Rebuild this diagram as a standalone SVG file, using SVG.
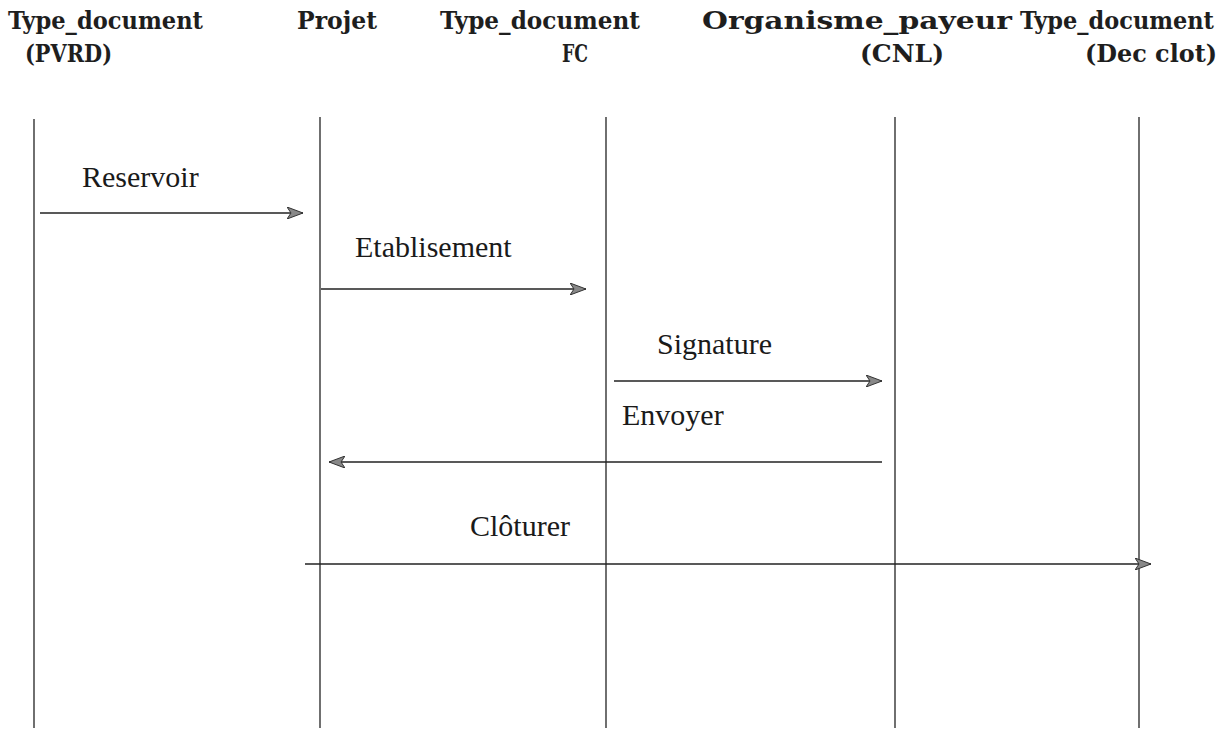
<svg xmlns="http://www.w3.org/2000/svg" width="1225" height="730" viewBox="0 0 1225 730">
  <style>
    .head { font-family: "DejaVu Serif", "Liberation Serif", serif; font-weight: bold; font-size: 24px; fill: #1e1e1e; }
    .msg { font-family: "Liberation Serif", "Times New Roman", serif; font-size: 30px; fill: #1a1a1a; }
    .life { stroke: #222; stroke-width: 1.3; fill: none; }
    .arrow { stroke: #222; stroke-width: 1.4; fill: none; marker-end: url(#head); }
  </style>
  <defs>
    <marker id="head" viewBox="0 0 16 12" refX="16" refY="6" markerWidth="16" markerHeight="12" markerUnits="userSpaceOnUse" orient="auto">
      <path d="M0,0 L16,6 L0,12 L4,6 Z" fill="#888" stroke="#333" stroke-width="1"/>
    </marker>
  </defs>
  <rect width="1225" height="730" fill="#fff"/>

  <!-- participants: header label + lifeline -->
  <g id="pvrd">
    <text class="head" x="8" y="29" textLength="195" lengthAdjust="spacingAndGlyphs">Type_document</text>
    <text class="head" x="25" y="62" textLength="87" lengthAdjust="spacingAndGlyphs">(PVRD)</text>
    <line class="life" x1="34" y1="119" x2="34" y2="728"/>
  </g>
  <g id="projet">
    <text class="head" x="297" y="29" textLength="80" lengthAdjust="spacingAndGlyphs">Projet</text>
    <line class="life" x1="320" y1="117" x2="320" y2="728"/>
  </g>
  <g id="fc">
    <text class="head" x="440" y="29" textLength="200" lengthAdjust="spacingAndGlyphs">Type_document</text>
    <text class="head" x="562" y="62" textLength="26" lengthAdjust="spacingAndGlyphs">FC</text>
    <line class="life" x1="606" y1="117" x2="606" y2="728"/>
  </g>
  <g id="cnl">
    <text class="head" x="702" y="29" textLength="310" lengthAdjust="spacingAndGlyphs">Organisme_payeur</text>
    <text class="head" x="860" y="62" textLength="84" lengthAdjust="spacingAndGlyphs">(CNL)</text>
    <line class="life" x1="895" y1="117" x2="895" y2="728"/>
  </g>
  <g id="decclot">
    <text class="head" x="1020" y="29" textLength="194" lengthAdjust="spacingAndGlyphs">Type_document</text>
    <text class="head" x="1085" y="62" textLength="132" lengthAdjust="spacingAndGlyphs">(Dec clot)</text>
    <line class="life" x1="1139" y1="117" x2="1139" y2="728"/>
  </g>

  <!-- messages -->
  <g id="connectors">
    <line class="arrow" x1="40" y1="213" x2="303" y2="213"/>
    <text class="msg" x="82" y="187">Reservoir</text>

    <line class="arrow" x1="321" y1="289" x2="586" y2="289"/>
    <text class="msg" x="355" y="257">Etablisement</text>

    <line class="arrow" x1="614" y1="381" x2="882" y2="381"/>
    <text class="msg" x="657" y="354">Signature</text>

    <line class="arrow" x1="882" y1="462" x2="329" y2="462"/>
    <text class="msg" x="622" y="425">Envoyer</text>

    <line class="arrow" x1="305" y1="564" x2="1151" y2="564"/>
    <text class="msg" x="470" y="536">Clôturer</text>
  </g>
</svg>
